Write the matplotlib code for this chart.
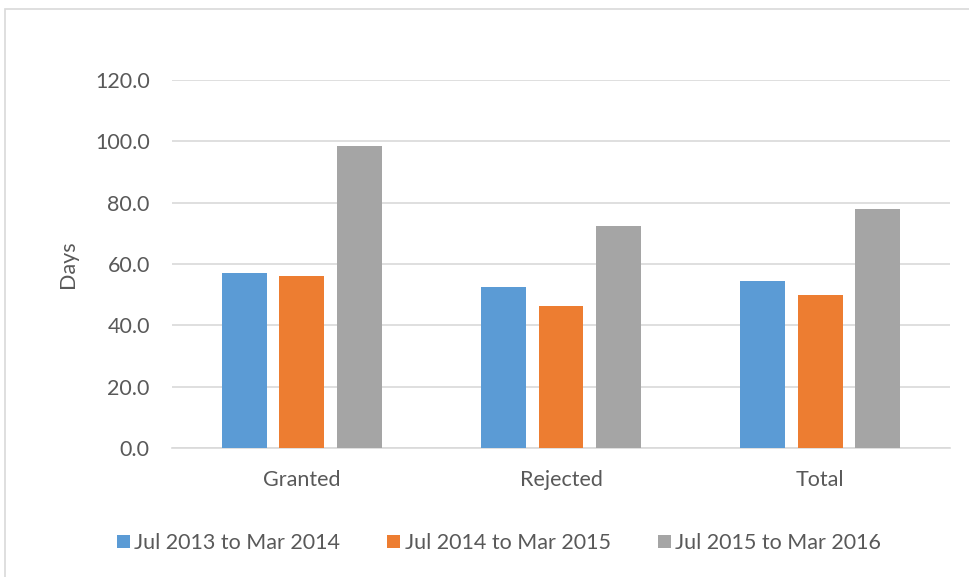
import matplotlib
matplotlib.use("Agg")
import matplotlib.pyplot as plt
from matplotlib.patches import Rectangle
import numpy as np

categories = ["Granted", "Rejected", "Total"]
series_names = ["Jul 2013 to Mar 2014", "Jul 2014 to Mar 2015", "Jul 2015 to Mar 2016"]
s2013 = [57.0, 52.5, 54.5]
s2014 = [56.0, 46.4, 49.8]
s2015 = [98.5, 72.4, 77.9]
colors = ["#5B9BD5", "#ED7D31", "#A5A5A5"]
yticks = [0, 20, 40, 60, 80, 100, 120]

plt.rcParams['font.family'] = ['Lato', 'DejaVu Sans']
txt = "#595959"
fs = 15.5

fig = plt.figure(figsize=(9.69, 5.77), dpi=100)
fig.patches.append(Rectangle((5/969, -0.1), 1.2, 1 - 9/577 + 0.1, transform=fig.transFigure,
                             fill=False, edgecolor="#D9D9D9", linewidth=1.2))
ax = fig.add_axes([172/969, 1 - 448/577, (950 - 172)/969, (448 - 80)/577])

x = np.arange(len(categories))
w = 0.173
step = 0.2216
for i, (vals, name, c) in enumerate(zip([s2013, s2014, s2015], series_names, colors)):
    ax.bar(x + (i - 1) * step, vals, width=w, color=c, label=name, zorder=3)

ax.set_xlim(-0.5, 2.5)
ax.set_ylim(0, 120)
ax.set_yticks(yticks)
ax.set_yticklabels([f"{v:.1f}" for v in yticks])
ax.set_xticks(x)
ax.set_xticklabels(categories)
ax.yaxis.grid(True, color="#D9D9D9", linewidth=1.2, zorder=0)
ax.set_axisbelow(True)
for s in ["top", "right", "left"]:
    ax.spines[s].set_visible(False)
ax.spines["bottom"].set_color("#D9D9D9")
ax.spines["bottom"].set_linewidth(1.2)
ax.tick_params(axis="both", length=0, labelsize=fs, colors=txt)
ax.tick_params(axis="x", pad=16)
ax.tick_params(axis="y", pad=16)
ax.set_ylabel("Days", fontsize=fs, color=txt, labelpad=12)

leg = fig.legend(loc="center", bbox_to_anchor=(499/969, 1 - 543/577), ncol=3, frameon=False,
                 fontsize=fs, handlelength=0.6, handleheight=0.6, handletextpad=0.2,
                 columnspacing=2.2, labelcolor=txt)

fig.savefig("out.png", dpi=100)
